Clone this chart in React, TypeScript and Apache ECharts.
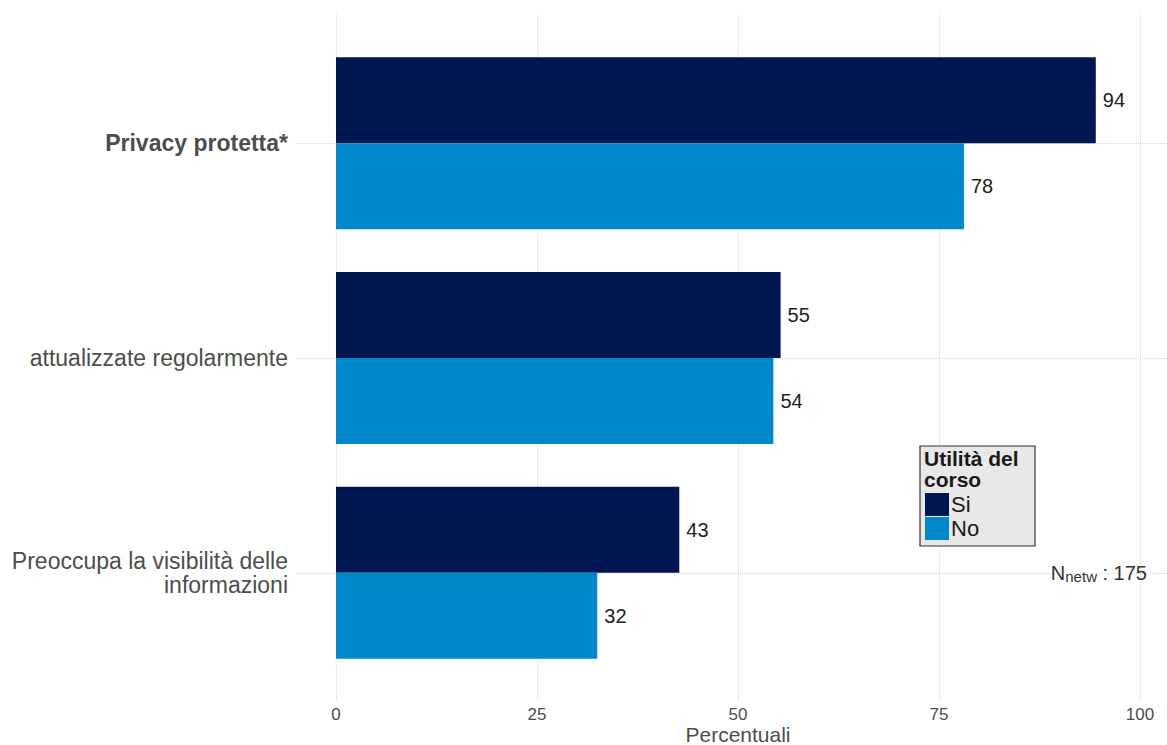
import React, { useEffect, useRef } from "react";
import * as echarts from "echarts";

const categories = [
  "Privacy protetta*",
  "attualizzate regolarmente",
  "Preoccupa la visibilità delle\ninformazioni",
];
const boldCategories = ["Privacy protetta*"];
const seriesNames = ["Si", "No"];
const siValues = [94.5, 55.3, 42.7];
const noValues = [78.1, 54.4, 32.5];
const siLabels = [94, 55, 43];
const noLabels = [78, 54, 32];
const xTicks = [0, 25, 50, 75, 100];
const legendTitle = "Utilità del\ncorso";
const nLabel = { main: "N", sub: "netw", value: " : 175" };

const FONT = "'Liberation Sans', Arial, Helvetica, sans-serif";
const NAVY = "#011751";
const BLUE = "#0088CC";
const GRIDC = "#d9d9d9";

export default function App() {
  const ref = useRef<HTMLDivElement>(null);
  useEffect(() => {
    const chart = echarts.init(ref.current!, null, { renderer: "svg" });
    const option: any = {
      animation: false,
      backgroundColor: "#ffffff",
      textStyle: { fontFamily: FONT },
      grid: [
        { left: 336, right: 27, top: 36, bottom: 65, outerBoundsMode: "none" },
        { left: 336, right: 27, top: 14, bottom: 43, outerBoundsMode: "none" },
        { left: 296, right: 0, top: 143, bottom: 172, outerBoundsMode: "none" },
      ],
      xAxis: [
        { gridIndex: 0, type: "value", min: 0, max: 100, show: false },
        {
          gridIndex: 1,
          type: "value",
          min: xTicks[0],
          max: xTicks[xTicks.length - 1],
          interval: 25,
          axisLine: { show: false },
          axisTick: { show: false },
          axisLabel: { fontSize: 17, lineHeight: 17, color: "#4d4d4d", margin: 4, fontFamily: FONT },
          splitLine: { show: true, lineStyle: { type: "dotted", color: GRIDC, width: 1 } },
          name: "Percentuali",
          nameLocation: "middle",
          nameGap: 22,
          nameMoveOverlap: false,
          nameTextStyle: { fontSize: 21, lineHeight: 20, color: "#4d4d4d", fontFamily: FONT },
        },
        { gridIndex: 2, type: "value", show: false, min: 0, max: 1 },
      ],
      yAxis: [
        {
          gridIndex: 0,
          type: "category",
          data: categories,
          inverse: true,
          axisLine: { show: false },
          axisTick: { show: false },
          splitLine: { show: false },
          axisLabel: {
            margin: 48,
            fontSize: 23,
            lineHeight: 24,
            color: "#4d4d4d",
            fontFamily: FONT,
            formatter: (v: string) => (boldCategories.includes(v) ? "{b|" + v + "}" : v),
            rich: {
              b: { fontWeight: "bold", fontSize: 23, color: "#4d4d4d", fontFamily: FONT },
            },
          },
        },
        { gridIndex: 1, type: "value", show: false },
        {
          gridIndex: 2,
          type: "value",
          min: 0,
          max: 2,
          interval: 1,
          axisLine: { show: false },
          axisTick: { show: false },
          axisLabel: { show: false },
          splitLine: { show: true, lineStyle: { type: "dotted", color: GRIDC, width: 1 } },
        },
      ],
      legend: {
        data: seriesNames,
        orient: "vertical",
        left: 925,
        top: 493,
        itemWidth: 24,
        itemHeight: 23,
        itemGap: 1,
        padding: 0,
        icon: "rect",
        z: 10,
        textStyle: { fontSize: 22, color: "#1a1a1a", fontFamily: FONT, padding: [0, 0, 0, -3] },
      },
      graphic: [
        {
          type: "rect",
          z: 5,
          shape: { x: 920, y: 446, width: 115, height: 100 },
          style: { fill: "#e8e8e8", stroke: "#333333", lineWidth: 1.2 },
        },
        {
          type: "text",
          z: 6,
          x: 924,
          y: 448,
          style: {
            text: legendTitle,
            fontSize: 21,
            fontWeight: "bold",
            lineHeight: 21,
            fill: "#1a1a1a",
            fontFamily: FONT,
            textVerticalAlign: "top",
          },
        },
        {
          type: "text",
          z: 6,
          x: 1147,
          y: 573,
          style: {
            text: "{n|" + nLabel.main + "}{s|" + nLabel.sub + "}{n|" + nLabel.value + "}",
            align: "right",
            verticalAlign: "middle",
            fontFamily: FONT,
            rich: {
              n: { fontSize: 20, fill: "#333333", fontFamily: FONT, lineHeight: 22 },
              s: { fontSize: 15, fill: "#333333", fontFamily: FONT, verticalAlign: "bottom", lineHeight: 22 },
            },
          },
        },
      ],
      series: [
        {
          name: seriesNames[0],
          type: "bar",
          xAxisIndex: 0,
          yAxisIndex: 0,
          data: siValues,
          barWidth: 86,
          barGap: "0%",
          itemStyle: { color: NAVY },
          label: {
            show: true,
            position: "right",
            distance: 7,
            fontSize: 20,
            color: "#222222",
            fontFamily: FONT,
            formatter: (p: any) => String(siLabels[p.dataIndex]),
          },
        },
        {
          name: seriesNames[1],
          type: "bar",
          xAxisIndex: 0,
          yAxisIndex: 0,
          data: noValues,
          barWidth: 86,
          barGap: "0%",
          itemStyle: { color: BLUE },
          label: {
            show: true,
            position: "right",
            distance: 7,
            fontSize: 20,
            color: "#222222",
            fontFamily: FONT,
            formatter: (p: any) => String(noLabels[p.dataIndex]),
          },
        },
      ],
    };
    chart.setOption(option);
    return () => chart.dispose();
  }, []);
  return (
    <div
      ref={ref}
      style={{ position: "fixed", left: 0, top: 0, width: 1167, height: 745 }}
    />
  );
}
